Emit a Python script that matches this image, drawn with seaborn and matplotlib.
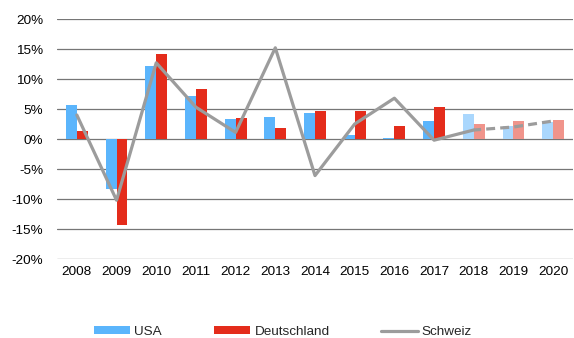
import numpy as np
import pandas as pd
import matplotlib
matplotlib.use("Agg")
import matplotlib.pyplot as plt
from matplotlib.patches import Patch
from matplotlib.lines import Line2D
import seaborn as sns

# Jahreswachstum in Prozent
jahre = [2008, 2009, 2010, 2011, 2012, 2013, 2014, 2015, 2016, 2017, 2018, 2019, 2020]
usa = [5.7, -8.4, 12.2, 7.2, 3.4, 3.6, 4.3, 0.6, 0.1, 3.0, 4.2, 2.2, 2.9]
deutschland = [1.3, -14.3, 14.2, 8.4, 3.5, 1.9, 4.6, 4.7, 2.2, 5.3, 2.5, 3.0, 3.2]
schweiz = [4.0, -10.2, 12.7, 5.3, 1.1, 15.2, -6.1, 2.5, 6.8, -0.2, 1.5, 2.0, 3.0]
prognose_ab = 2018  # Werte ab diesem Jahr sind Prognosen
y_ticks = [-20, -15, -10, -5, 0, 5, 10, 15, 20]

farbe_usa = "#5BB5FC"
farbe_de = "#E42C1B"
farbe_usa_hell = "#AAD7FD"
farbe_de_hell = "#F0948B"
farbe_ch = "#9C9C9C"

sns.set_theme(style="white")
plt.rcParams["font.family"] = ["Liberation Sans", "DejaVu Sans"]

df = pd.DataFrame({
    "Jahr": [str(j) for j in jahre] * 2,
    "Wert": usa + deutschland,
    "Land": ["USA"] * len(jahre) + ["Deutschland"] * len(jahre),
})

fig = plt.figure(figsize=(5.74, 3.38), dpi=100)
ax = fig.add_axes([57 / 574, 1 - 259 / 338, (573 - 57) / 574, 240 / 338])

sns.barplot(data=df, x="Jahr", y="Wert", hue="Land",
            palette={"USA": farbe_usa, "Deutschland": farbe_de},
            width=0.55, saturation=1, legend=False, ax=ax, zorder=3)

# Prognosejahre heller einfärben
for cont, hell in zip(ax.containers, [farbe_usa_hell, farbe_de_hell]):
    for jahr, bar in zip(jahre, cont):
        bar.set_linewidth(0)
        if jahr >= prognose_ab:
            bar.set_facecolor(hell)

# Schweiz als Linie, Prognose gestrichelt
pos = np.arange(len(jahre))
k = jahre.index(prognose_ab)
sns.lineplot(x=pos[:k + 1], y=schweiz[:k + 1], color=farbe_ch, lw=2.3,
             ax=ax, zorder=4, sort=False)
sns.lineplot(x=pos[k:], y=schweiz[k:], color=farbe_ch, lw=2.3,
             ax=ax, zorder=4, sort=False, linestyle=(0.5, (2.8, 1.6)))

ax.set_ylim(-20, 20)
ax.set_xlim(-0.5, len(jahre) - 0.5)
ax.set_yticks(y_ticks)
ax.set_yticklabels([f"{t}%" for t in y_ticks])
ax.set_xlabel("")
ax.set_ylabel("")
for s in ax.spines.values():
    s.set_visible(False)
ax.grid(axis="y", color="#767676", lw=0.9, zorder=1)
ax.grid(axis="x", visible=False)
ax.set_axisbelow(True)
ax.tick_params(axis="y", length=0, pad=10, labelsize=9.7, colors="black")
ax.tick_params(axis="x", length=0, pad=5, labelsize=9.7, colors="black")

handles = [
    Patch(facecolor=farbe_usa, edgecolor="none", label="USA"),
    Patch(facecolor=farbe_de, edgecolor="none", label="Deutschland"),
    Line2D([0], [0], color=farbe_ch, lw=2.3, label="Schweiz"),
]
fig.legend(handles=handles, loc="center", bbox_to_anchor=(283 / 574, 1 - 332 / 338),
           ncol=3, frameon=False, fontsize=9.7, handlelength=2.7, handleheight=0.5,
           handletextpad=0.3, columnspacing=3.85, borderpad=0, borderaxespad=0)

fig.savefig("out.png", dpi=100)
